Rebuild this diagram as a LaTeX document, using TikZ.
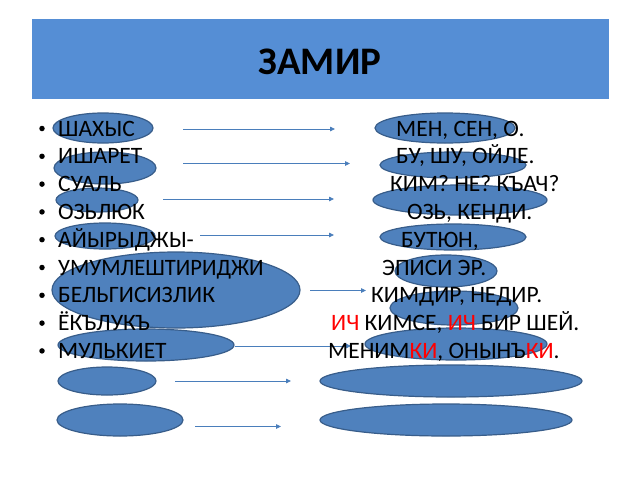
\documentclass[tikz,border=0pt]{standalone}
\usepackage{fontspec}
\setmainfont{Carlito}
\usetikzlibrary{shapes.geometric,arrows.meta}
\definecolor{hdr}{HTML}{558ED5}
\definecolor{ellfill}{HTML}{4F81BD}
\definecolor{elldraw}{HTML}{385D8A}
\definecolor{arr}{HTML}{4A7EBB}
\begin{document}
\begin{tikzpicture}[x=1pt,y=-1pt,
  ell/.style={ellipse,fill=ellfill,draw=elldraw,line width=1.2pt,inner sep=0pt},
  conn/.style={draw=arr,line width=0.8pt,-{Triangle[length=5pt,width=4.5pt]}},
  txt/.style={anchor=base west,inner sep=0pt,font=\fontsize{23.5}{28}\selectfont},
  bul/.style={circle,fill=black,inner sep=0pt,minimum size=5.5pt}]
\useasboundingbox (0,0) rectangle (640,480);
\fill[white] (0,0) rectangle (640,480);
% header
\node[fill=hdr,minimum width=577pt,minimum height=80pt,inner sep=0pt,anchor=north west] (hdr) at (32,19) {};
\node[inner sep=0pt,font=\fontsize{39}{44}\bfseries\selectfont] (title) at (320,62) {ЗАМИР};
% left ellipses
\node[ell,minimum width=100pt,minimum height=30pt] (l1) at (103,128) {};
\node[ell,minimum width=102pt,minimum height=32pt] (l2) at (105,168) {};
\node[ell,minimum width=82pt,minimum height=24pt] (l3) at (97,200) {};
\node[ell,minimum width=100pt,minimum height=26pt] (l4) at (105,236) {};
\node[ell,minimum width=248pt,minimum height=76pt] (l5) at (176,290) {};
\node[ell,minimum width=176pt,minimum height=32pt] (l6) at (146,345) {};
\node[ell,minimum width=98pt,minimum height=28pt] (l7) at (107,381) {};
\node[ell,minimum width=126pt,minimum height=32pt] (l8) at (120,420) {};
% right ellipses
\node[ell,minimum width=140pt,minimum height=30pt] (r1) at (445,128) {};
\node[ell,minimum width=146pt,minimum height=26pt] (r2) at (453,165) {};
\node[ell,minimum width=174pt,minimum height=30pt] (r3) at (460,200) {};
\node[ell,minimum width=146pt,minimum height=26pt] (r4) at (453,237) {};
\node[ell,minimum width=102pt,minimum height=32pt] (r5) at (446,271) {};
\node[ell,minimum width=128pt,minimum height=34pt] (r6) at (454,308) {};
\node[ell,minimum width=182pt,minimum height=32pt] (r7) at (456,344) {};
\node[ell,minimum width=262pt,minimum height=32pt] (r8) at (451,381) {};
\node[ell,minimum width=252pt,minimum height=32pt] (r9) at (446,420) {};
% arrows
\coordinate (a1s) at (183,129); \coordinate (a1e) at (335,129);
\coordinate (a2s) at (183,163.5); \coordinate (a2e) at (350,163.5);
\coordinate (a3s) at (163,199); \coordinate (a3e) at (334,199);
\coordinate (a4s) at (200,235); \coordinate (a4e) at (334,235);
\coordinate (a5s) at (310,290.5); \coordinate (a5e) at (366,290.5);
\coordinate (a6s) at (235,346); \coordinate (a6e) at (351,346);
\coordinate (a7s) at (175,381); \coordinate (a7e) at (291,381);
\coordinate (a8s) at (195,426.5); \coordinate (a8e) at (281,426.5);
\draw[conn] (a1s) -- (a1e);
\draw[conn] (a2s) -- (a2e);
\draw[conn] (a3s) -- (a3e);
\draw[conn] (a4s) -- (a4e);
\draw[conn] (a5s) -- (a5e);
\draw[conn] (a6s) -- (a6e);
\draw[conn] (a7s) -- (a7e);
\draw[conn] (a8s) -- (a8e);
% bullets
\foreach \i/\y in {1/128.5,2/156.3,3/184.1,4/211.9,5/239.7,6/267.5,7/295.3,8/323.1,9/350.9}
  \node[bul] (b\i) at (42,\y) {};
% left texts
\node[txt] (t1) at (58,136) {ШАХЫС};
\node[txt] (t2) at (58,163.8) {ИШАРЕТ};
\node[txt] (t3) at (58,191.6) {СУАЛЬ};
\node[txt] (t4) at (58,219.4) {ОЗЬЛЮК};
\node[txt] (t5) at (58,247.2) {АЙЫРЫДЖЫ-};
\node[txt] (t6) at (58,275) {\scalebox{0.96}[1]{УМУМЛЕШТИРИДЖИ}};
\node[txt] (t7) at (58,302.8) {БЕЛЬГИСИЗЛИК};
\node[txt] (t8) at (58,330.6) {ЁКЪЛУКЪ};
\node[txt] (t9) at (58,358.4) {МУЛЬКИЕТ};
% right texts
\node[txt] (u1) at (396,136) {МЕН, СЕН, О.};
\node[txt] (u2) at (396,163.8) {БУ, ШУ, ОЙЛЕ.};
\node[txt] (u3) at (390,191.6) {КИМ? НЕ? КЪАЧ?};
\node[txt] (u4) at (407,219.4) {ОЗЬ, КЕНДИ.};
\node[txt] (u5) at (401,247.2) {БУТЮН,};
\node[txt] (u6) at (382,275) {ЭПИСИ ЭР.};
\node[txt] (u7) at (371,302.8) {КИМДИР, НЕДИР.};
\node[txt] (u8) at (331,330.6) {\textcolor{red}{ИЧ} КИМСЕ, \textcolor{red}{ИЧ} БИР ШЕЙ.};
\node[txt] (u9) at (328,358.4) {МЕНИМ\textcolor{red}{КИ}, ОНЫНЪ\textcolor{red}{КИ}.};
\end{tikzpicture}
\end{document}
